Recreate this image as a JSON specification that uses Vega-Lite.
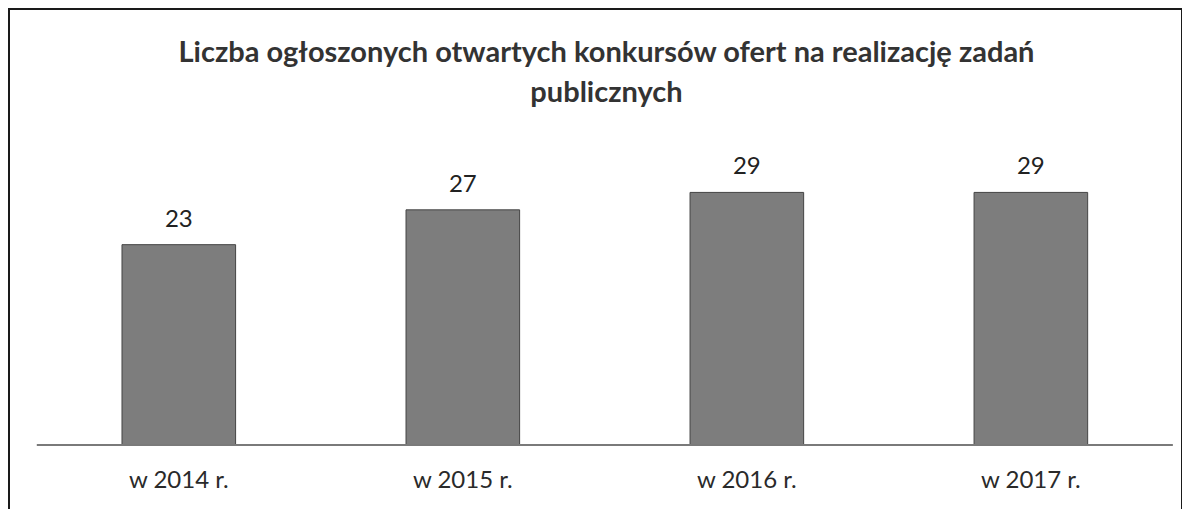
{
  "$schema": "https://vega.github.io/schema/vega-lite/v6.json",
  "width": 1173,
  "height": 510,
  "autosize": {"type": "none"},
  "padding": {"left": 9, "top": 9, "right": 0, "bottom": 0},
  "background": "#ffffff",
  "config": {"view": {"stroke": "#1a1a1a", "strokeWidth": 2}},
  "title": {
    "text": ["Liczba ogłoszonych otwartych konkursów ofert na realizację zadań", "publicznych"],
    "font": "Lato",
    "fontSize": 29,
    "fontWeight": "bold",
    "color": "#333333",
    "lineHeight": 40,
    "anchor": "middle",
    "baseline": "top",
    "offset": -99,
    "dx": 11
  },
  "datasets": {
    "bars": [
      {"rok": "w 2014 r.", "liczba": 23},
      {"rok": "w 2015 r.", "liczba": 27},
      {"rok": "w 2016 r.", "liczba": 29},
      {"rok": "w 2017 r.", "liczba": 29}
    ],
    "base": [{"od": "w 2014 r.", "do": "w 2017 r."}]
  },
  "layer": [
    {
      "data": {"name": "bars"},
      "mark": {"type": "bar", "fill": "#7d7d7d", "stroke": "#444444", "strokeWidth": 1},
      "encoding": {
        "x": {"field": "rok", "type": "nominal", "sort": null,
          "scale": {"domain": ["w 2014 r.", "w 2015 r.", "w 2016 r.", "w 2017 r."], "paddingInner": 0.6, "paddingOuter": 0.365, "align": 0.545},
          "axis": null},
        "y": {"field": "liczba", "type": "quantitative", "scale": {"domain": [-8.5, 50.06], "nice": false, "zero": false}, "axis": null}
      }
    },
    {
      "data": {"name": "bars"},
      "mark": {"type": "text", "font": "Lato", "fontSize": 24, "color": "#222222", "baseline": "alphabetic", "dy": -18},
      "encoding": {
        "x": {"field": "rok", "type": "nominal", "sort": null},
        "y": {"field": "liczba", "type": "quantitative"},
        "text": {"field": "liczba", "type": "quantitative"}
      }
    },
    {
      "data": {"name": "bars"},
      "mark": {"type": "text", "font": "Lato", "fontSize": 24, "color": "#2a2a2a", "baseline": "middle"},
      "encoding": {
        "x": {"field": "rok", "type": "nominal", "sort": null},
        "y": {"datum": -4.1, "type": "quantitative"},
        "text": {"field": "rok", "type": "nominal"}
      }
    },
    {
      "data": {"name": "base"},
      "mark": {"type": "rule", "stroke": "#7a7a7a", "strokeWidth": 2},
      "encoding": {
        "x": {"field": "od", "type": "nominal", "sort": null, "bandPosition": -0.75},
        "x2": {"field": "do", "bandPosition": 1.75},
        "y": {"datum": 0, "type": "quantitative"}
      }
    }
  ]
}
